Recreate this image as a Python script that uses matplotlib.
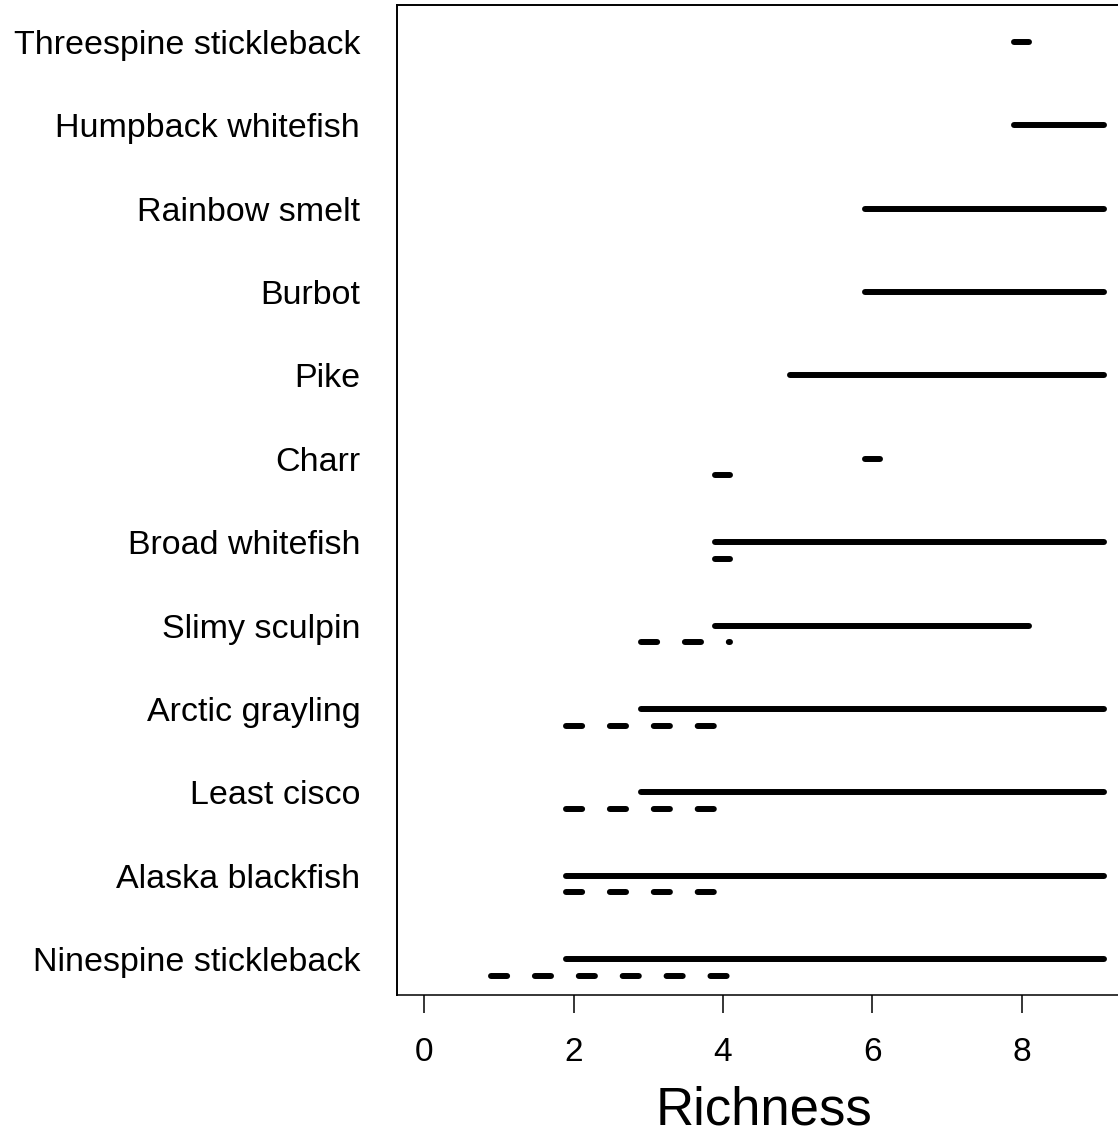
import numpy as np
import matplotlib.pyplot as plt

## data (row 1 = bottom) ##
species = ["Ninespine stickleback", "Alaska blackfish", "Least cisco", "Arctic grayling",
           "Slimy sculpin", "Broad whitefish", "Charr", "Pike", "Burbot",
           "Rainbow smelt", "Humpback whitefish", "Threespine stickleback"]
solid_lo = [1.9, 1.9, 2.9, 2.9, 3.9, 3.9, 5.9, 4.9, 5.9, 5.9, 7.9, 7.9]
solid_hi = [9.1, 9.1, 9.1, 9.1, 8.1, 9.1, 6.1, 9.1, 9.1, 9.1, 9.1, 8.1]
dash_lo = [0.9, 1.9, 1.9, 1.9, 2.9, 3.9, 3.9, None, None, None, None, None]
dash_hi = [4.1, 3.9, 3.9, 3.9, 4.1, 4.1, 4.1, None, None, None, None, None]
xticks = [0, 2, 4, 6, 8]

plt.rcParams['font.family'] = ['Liberation Sans', 'DejaVu Sans']

fig = plt.figure(figsize=(11.18, 11.37), dpi=100)
ax = fig.add_axes([0.3551, 0.1249, 0.6565, 0.8707])

lw = 4.3
rows = np.arange(1, len(species) + 1)
for y, a, b in zip(rows, solid_lo, solid_hi):
    ax.plot([a, b], [y, y], color='black', lw=lw, solid_capstyle='round')
for y, a, b in zip(rows, dash_lo, dash_hi):
    if a is None:
        continue
    ax.plot([a, b], [y - 0.2, y - 0.2], color='black', lw=lw,
            linestyle=(0, (2.7, 4.65)), dash_capstyle='round')

ax.set_xlim(-0.364, 9.464)
ax.set_ylim(0.57, 12.44)

ax.set_yticks(rows)
ax.set_yticklabels(species, fontsize=24.5)
ax.tick_params(axis='y', length=0, pad=26.5)
ax.set_xticks(xticks)
ax.set_xticklabels([str(t) for t in xticks], fontsize=24)
ax.tick_params(axis='x', length=13, width=1.1, pad=17)

for s in ax.spines.values():
    s.set_linewidth(1.4)
ax.spines['bottom'].set_linewidth(1.1)

ax.set_xlabel("Richness", fontsize=38, labelpad=13)

fig.savefig("out.png", dpi=100)
